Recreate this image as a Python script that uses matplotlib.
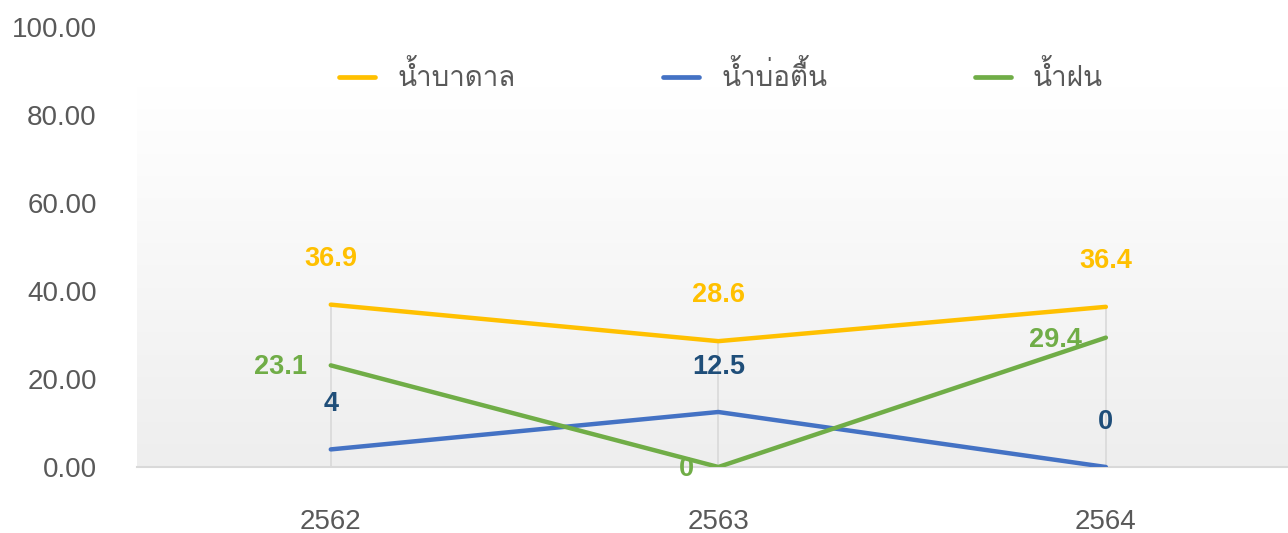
import numpy as np
import matplotlib
matplotlib.use("Agg")
import matplotlib.pyplot as plt
from matplotlib import font_manager
from matplotlib.ft2font import FT2Font
from matplotlib.lines import Line2D
from matplotlib.colors import LinearSegmentedColormap

# ---- data ----
years = ["2562", "2563", "2564"]
series_names = ["น้ำบาดาล", "น้ำบ่อตื้น", "น้ำฝน"]
groundwater = [36.9, 28.6, 36.4]
shallow_well = [4, 12.5, 0]
rainwater = [23.1, 0, 29.4]
y_ticks = [0, 20, 40, 60, 80, 100]

line_colors = ["#FFC000", "#4472C4", "#70AD47"]
label_colors = ["#FFC000", "#1F4E79", "#70AD47"]

# find a font with Thai glyphs
thai_font = None
for f in font_manager.fontManager.ttflist:
    try:
        if 0x0E19 in FT2Font(f.fname).get_charmap():
            thai_font = f.name
            break
    except Exception:
        pass

base_font = "Liberation Sans"
plt.rcParams["font.family"] = [base_font] + ([thai_font] if thai_font else []) + ["DejaVu Sans"]

fig = plt.figure(figsize=(12.88, 5.33), dpi=100)
ax = fig.add_axes([137 / 1288, 66 / 533, 1 - 137 / 1288, 440 / 533])
ax.set_xlim(-0.5, 2.47)
ax.set_ylim(0, 100)

# gradient plot-area background (white at top, light grey at bottom)
cmap = LinearSegmentedColormap.from_list("g", ["#ffffff", "#eeeeee"])
ax.imshow(np.linspace(0, 1, 256).reshape(-1, 1), extent=[-0.5, 2.47, 0, 86.4],
          cmap=cmap, aspect="auto", origin="upper", zorder=0, vmin=0, vmax=1)

x = np.arange(len(years))
all_series = [groundwater, shallow_well, rainwater]

# drop (high-low) lines
maxes = np.max(np.array(all_series), axis=0)
ax.vlines(x, 0, maxes, colors="#d9d9d9", linewidth=1.2, zorder=1)

for vals, lc in zip(all_series, line_colors):
    ax.plot(x, vals, color=lc, linewidth=3.2, solid_capstyle="round", zorder=3)

# data labels
for i, v in enumerate(groundwater):
    ax.annotate(f"{v:g}", (x[i], v), xytext=(0, 46), textcoords="offset pixels",
                ha="center", va="center", fontsize=19.5, fontweight="bold",
                color=label_colors[0], zorder=4)
for i, v in enumerate(shallow_well):
    ax.annotate(f"{v:g}", (x[i], v), xytext=(0, 45), textcoords="offset pixels",
                ha="center", va="center", fontsize=19.5, fontweight="bold",
                color=label_colors[1], zorder=4)
for i, v in enumerate(rainwater):
    ax.annotate(f"{v:g}", (x[i], v), xytext=(-24, -2), textcoords="offset pixels",
                ha="right", va="center", fontsize=19.5, fontweight="bold",
                color=label_colors[2], zorder=4)

# axes styling
for s in ["top", "right", "left"]:
    ax.spines[s].set_visible(False)
ax.spines["bottom"].set_color("#d9d9d9")
ax.spines["bottom"].set_linewidth(1.5)
ax.spines["bottom"].set_zorder(2)
ax.set_xticks(x)
ax.set_xticklabels(years)
ax.set_yticks(y_ticks)
ax.set_yticklabels([f"{t:.2f}" for t in y_ticks])
ax.tick_params(axis="both", length=0, labelsize=20, labelcolor="#595959")
ax.tick_params(axis="x", pad=30)
ax.tick_params(axis="y", pad=29)

# legend
handles = [Line2D([0], [0], color=c, linewidth=3.4, solid_capstyle="round") for c in line_colors]
leg = fig.legend(handles, series_names, loc="center", bbox_to_anchor=(721 / 1288, 1 - 77 / 533),
                 ncol=3, frameon=False, fontsize=20, handlelength=1.3, handletextpad=0.8,
                 columnspacing=5.3, labelcolor="#595959")

fig.savefig("out.png", dpi=100)
